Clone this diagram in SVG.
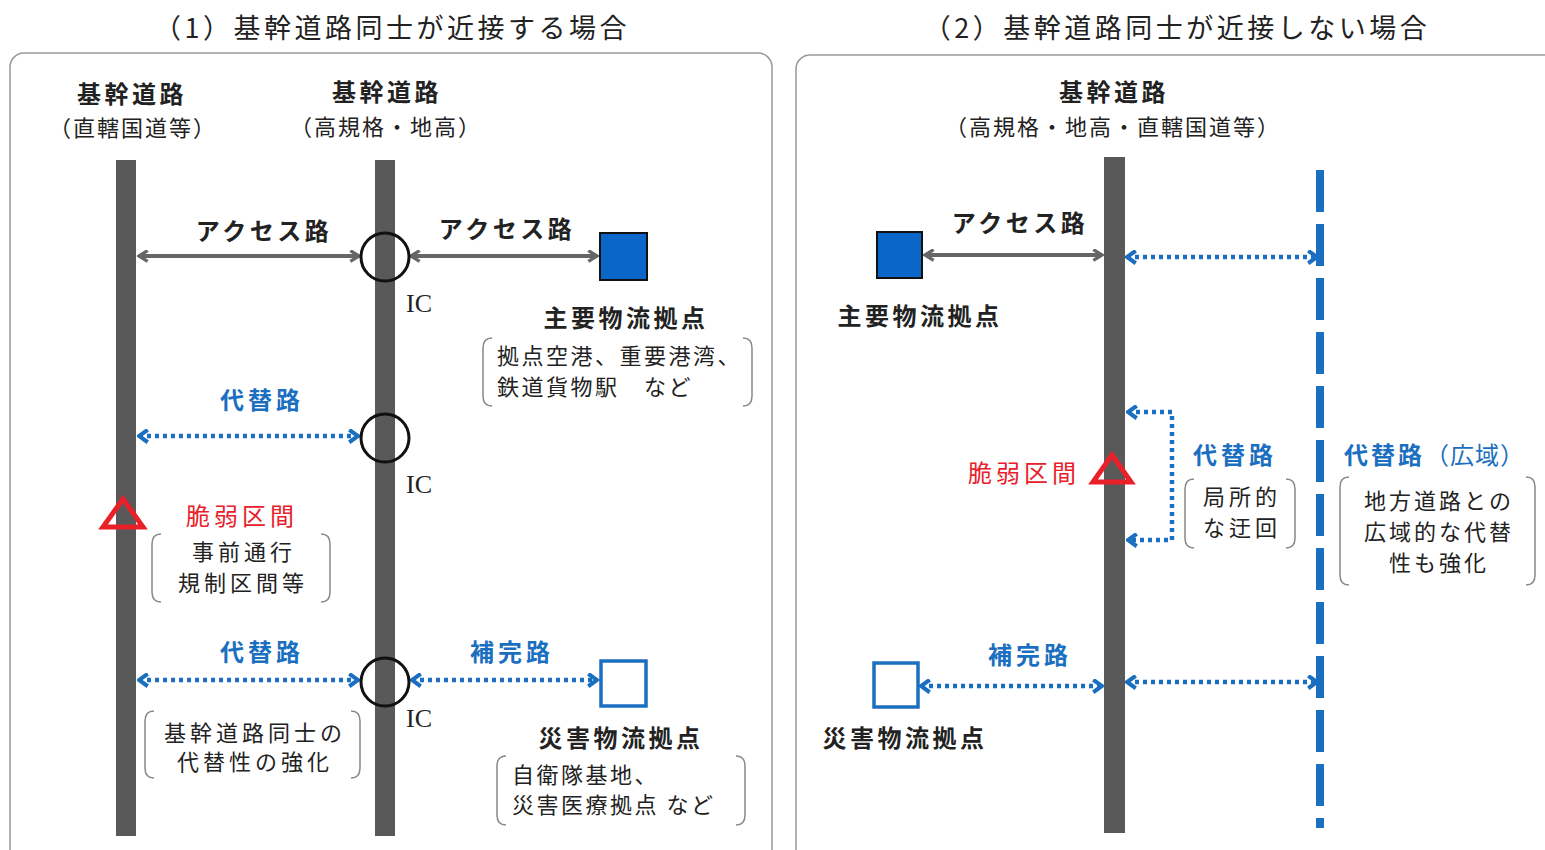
<svg xmlns="http://www.w3.org/2000/svg" width="1545" height="850" viewBox="0 0 1545 850">
<style>
text{font-family:"Noto Sans CJK JP","Noto Sans",sans-serif;fill:#222}
.title{font-size:27px;letter-spacing:3.5px;text-anchor:middle}
.hb{font-size:24px;font-weight:bold;letter-spacing:3.5px;text-anchor:middle}
.sub{font-size:22px;letter-spacing:2px;text-anchor:middle}
.blue{fill:#1b6fc0;font-weight:bold;font-size:24px;letter-spacing:4px;text-anchor:middle}
.red{fill:#e8202a;font-size:24px;letter-spacing:4px;text-anchor:middle}
.note{font-size:22px;letter-spacing:3px}
.ic{font-family:"Liberation Serif",serif;font-size:26px}
.road{fill:#595959}
.acc{stroke:#666;stroke-width:4;fill:none}
.dot{stroke:#1b6fc0;stroke-width:4.5;fill:none;stroke-dasharray:4 4}
.br{stroke:#888;stroke-width:1.5;fill:none}
.ring{fill:none;stroke:#111;stroke-width:3}
.panel{fill:none;stroke:#999;stroke-width:1.5}
</style>
<defs>
<marker id="ga" viewBox="0 0 12 12" refX="10" refY="6" markerWidth="13" markerHeight="13" markerUnits="userSpaceOnUse" orient="auto-start-reverse">
<path d="M2,1 L10,6 L2,11" fill="none" stroke="#666" stroke-width="3"/>
</marker>
<marker id="ba" viewBox="0 0 12 12" refX="10" refY="6" markerWidth="15" markerHeight="15" markerUnits="userSpaceOnUse" orient="auto-start-reverse">
<path d="M3,1 L10,6 L3,11" fill="none" stroke="#1b6fc0" stroke-width="3.2"/>
</marker>
</defs>
<rect width="1545" height="850" fill="#fff"/>

<g id="titles">
<text class="title" x="392" y="38">（1）基幹道路同士が近接する場合</text>
<text class="title" x="1177" y="38">（2）基幹道路同士が近接しない場合</text>
</g>
<g id="panels">
<rect class="panel" x="10" y="53" width="762" height="812" rx="14"/>
<rect class="panel" x="796" y="55" width="770" height="810" rx="14"/>
</g>

<g id="roads">
<rect class="road" x="116" y="160" width="20" height="676"/>
<rect class="road" x="375" y="160" width="20" height="676"/>
<rect class="road" x="1104" y="157" width="21" height="676"/>
<line x1="1320" y1="170" x2="1320" y2="828" stroke="#1b6fc0" stroke-width="8" stroke-dasharray="42 12"/>
</g>

<g id="road-labels">
<text class="hb" x="132" y="103">基幹道路</text>
<text class="sub" x="133" y="136">（直轄国道等）</text>
<text class="hb" x="387" y="101">基幹道路</text>
<text class="sub" x="386" y="135">（高規格・地高）</text>
<text class="hb" x="1114" y="101">基幹道路</text>
<text class="sub" x="1113" y="135">（高規格・地高・直轄国道等）</text>
</g>

<g id="connectors">
<line class="acc" x1="139" y1="256" x2="359" y2="256" marker-start="url(#ga)" marker-end="url(#ga)"/>
<line class="acc" x1="411" y1="256" x2="597" y2="256" marker-start="url(#ga)" marker-end="url(#ga)"/>
<line class="dot" x1="139" y1="436" x2="358" y2="436" marker-start="url(#ba)" marker-end="url(#ba)"/>
<line class="dot" x1="139" y1="680" x2="358" y2="680" marker-start="url(#ba)" marker-end="url(#ba)"/>
<line class="dot" x1="412" y1="680" x2="597" y2="680" marker-start="url(#ba)" marker-end="url(#ba)"/>
<line class="acc" x1="925" y1="255" x2="1102" y2="255" marker-start="url(#ga)" marker-end="url(#ga)"/>
<line class="dot" x1="1127" y1="257" x2="1317" y2="257" marker-start="url(#ba)" marker-end="url(#ba)"/>
<path class="dot" d="M1128,412 H1172 V540 H1128" marker-start="url(#ba)" marker-end="url(#ba)"/>
<line class="dot" x1="921" y1="686" x2="1102" y2="686" marker-start="url(#ba)" marker-end="url(#ba)"/>
<line class="dot" x1="1127" y1="682" x2="1317" y2="682" marker-start="url(#ba)" marker-end="url(#ba)"/>
</g>

<g id="ic1"><circle class="ring" cx="385" cy="257" r="24"/><text class="ic" x="406" y="312">IC</text></g>
<g id="ic2"><circle class="ring" cx="385" cy="438" r="24"/><text class="ic" x="406" y="493">IC</text></g>
<g id="ic3"><circle class="ring" cx="385" cy="682" r="24"/><text class="ic" x="406" y="727">IC</text></g>

<g id="edge-labels">
<text class="hb" x="264" y="240">アクセス路</text>
<text class="hb" x="507" y="238">アクセス路</text>
<text class="blue" x="262" y="409">代替路</text>
<text class="blue" x="262" y="661">代替路</text>
<text class="blue" x="512" y="661">補完路</text>
<text class="hb" x="1020" y="232">アクセス路</text>
<text class="blue" x="1030" y="664">補完路</text>
</g>

<g id="logi-main-1">
<rect x="600" y="233" width="47" height="47" fill="#0a66c8" stroke="#111" stroke-width="2"/>
<text class="hb" x="626" y="327">主要物流拠点</text>
<path class="br" d="M492,338 Q483,338 483,348 V396 Q483,406 492,406"/>
<path class="br" d="M743,338 Q752,338 752,348 V396 Q752,406 743,406"/>
<text class="note" x="497" y="364" style="letter-spacing:2.5px">拠点空港、重要港湾、</text>
<text class="note" x="497" y="395" style="letter-spacing:2.5px">鉄道貨物駅　など</text>
</g>

<g id="weak-1">
<path d="M123,499 L143,527 L103,527 Z" fill="none" stroke="#e8202a" stroke-width="5"/>
<text class="red" x="242" y="525">脆弱区間</text>
<path class="br" d="M161,534 Q152,534 152,544 V592 Q152,602 161,602"/>
<path class="br" d="M321,534 Q330,534 330,544 V592 Q330,602 321,602"/>
<text class="note" x="244" y="560" text-anchor="middle" style="letter-spacing:4px">事前通行</text>
<text class="note" x="243" y="591" text-anchor="middle" style="letter-spacing:4px">規制区間等</text>
</g>

<g id="note-alt">
<path class="br" d="M154,711 Q145,711 145,721 V768 Q145,778 154,778"/>
<path class="br" d="M351,711 Q360,711 360,721 V768 Q360,778 351,778"/>
<text class="note" x="255" y="741" text-anchor="middle" style="letter-spacing:4px">基幹道路同士の</text>
<text class="note" x="255" y="770" text-anchor="middle" style="letter-spacing:4px">代替性の強化</text>
</g>

<g id="logi-dis-1">
<rect x="601" y="661" width="45" height="45" fill="#fff" stroke="#1b6fc0" stroke-width="3.5"/>
<text class="hb" x="621" y="747">災害物流拠点</text>
<path class="br" d="M506,756 Q497,756 497,766 V815 Q497,825 506,825"/>
<path class="br" d="M736,756 Q745,756 745,766 V815 Q745,825 736,825"/>
<text class="note" x="512" y="783" style="letter-spacing:2.5px">自衛隊基地、</text>
<text class="note" x="512" y="813" style="letter-spacing:2.5px">災害医療拠点 など</text>
</g>

<g id="logi-main-2">
<rect x="877" y="232" width="45" height="46" fill="#0a66c8" stroke="#111" stroke-width="2"/>
<text class="hb" x="920" y="325">主要物流拠点</text>
</g>

<g id="weak-2">
<path d="M1112,455 L1131,482 L1093,482 Z" fill="none" stroke="#e8202a" stroke-width="5"/>
<text class="red" x="1024" y="482">脆弱区間</text>
</g>

<g id="alt-local">
<text class="blue" x="1235" y="464">代替路</text>
<path class="br" d="M1194,479 Q1185,479 1185,489 V538 Q1185,548 1194,548"/>
<path class="br" d="M1286,479 Q1295,479 1295,489 V538 Q1295,548 1286,548"/>
<text class="note" x="1242" y="505" text-anchor="middle" style="letter-spacing:4px">局所的</text>
<text class="note" x="1242" y="536" text-anchor="middle" style="letter-spacing:4px">な迂回</text>
</g>

<g id="alt-wide">
<text x="1344" y="464" style="fill:#1b6fc0;font-size:24px;letter-spacing:1px"><tspan font-weight="bold" style="letter-spacing:3px">代替路</tspan><tspan>（広域）</tspan></text>
<path class="br" d="M1349,477 Q1340,477 1340,487 V575 Q1340,585 1349,585"/>
<path class="br" d="M1526,477 Q1535,477 1535,487 V575 Q1535,585 1526,585"/>
<text class="note" x="1439" y="509" text-anchor="middle">地方道路との</text>
<text class="note" x="1439" y="540" text-anchor="middle">広域的な代替</text>
<text class="note" x="1439" y="571" text-anchor="middle">性も強化</text>
</g>

<g id="logi-dis-2">
<rect x="874" y="663" width="44" height="44" fill="#fff" stroke="#1b6fc0" stroke-width="3.5"/>
<text class="hb" x="905" y="747">災害物流拠点</text>
</g>
</svg>
